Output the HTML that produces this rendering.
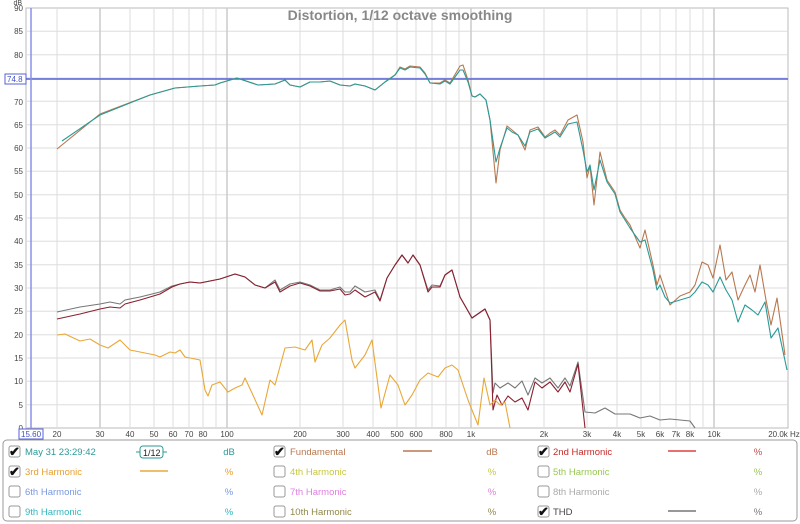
<!DOCTYPE html>
<html><head><style>
body{margin:0;background:#fff;font-family:"Liberation Sans",sans-serif;}
svg{display:block}
</style></head><body>
<svg width="800" height="524" xmlns="http://www.w3.org/2000/svg" font-family="Liberation Sans, sans-serif">
<rect width="800" height="524" fill="#fff"/>
<rect x="26" y="8" width="762" height="420" fill="#fff" stroke="#bbb"/>
<g stroke="#ddd" stroke-width="1">
<line x1="26" y1="31.3" x2="788" y2="31.3"/><line x1="26" y1="54.7" x2="788" y2="54.7"/><line x1="26" y1="78" x2="788" y2="78"/><line x1="26" y1="101.3" x2="788" y2="101.3"/><line x1="26" y1="124.7" x2="788" y2="124.7"/><line x1="26" y1="148" x2="788" y2="148"/><line x1="26" y1="171.3" x2="788" y2="171.3"/><line x1="26" y1="194.7" x2="788" y2="194.7"/><line x1="26" y1="218" x2="788" y2="218"/><line x1="26" y1="241.3" x2="788" y2="241.3"/><line x1="26" y1="264.7" x2="788" y2="264.7"/><line x1="26" y1="288" x2="788" y2="288"/><line x1="26" y1="311.3" x2="788" y2="311.3"/><line x1="26" y1="334.7" x2="788" y2="334.7"/><line x1="26" y1="358" x2="788" y2="358"/><line x1="26" y1="381.3" x2="788" y2="381.3"/><line x1="26" y1="404.7" x2="788" y2="404.7"/>
</g>
<g stroke="#ddd">
<line x1="57" y1="8" x2="57" y2="428"/><line x1="100" y1="8" x2="100" y2="428"/><line x1="130" y1="8" x2="130" y2="428"/><line x1="154" y1="8" x2="154" y2="428"/><line x1="173" y1="8" x2="173" y2="428"/><line x1="189" y1="8" x2="189" y2="428"/><line x1="203" y1="8" x2="203" y2="428"/><line x1="216" y1="8" x2="216" y2="428"/><line x1="227" y1="8" x2="227" y2="428"/>
<line x1="300" y1="8" x2="300" y2="428"/><line x1="343" y1="8" x2="343" y2="428"/><line x1="373" y1="8" x2="373" y2="428"/><line x1="397" y1="8" x2="397" y2="428"/><line x1="416" y1="8" x2="416" y2="428"/><line x1="432" y1="8" x2="432" y2="428"/><line x1="446" y1="8" x2="446" y2="428"/><line x1="459" y1="8" x2="459" y2="428"/><line x1="471" y1="8" x2="471" y2="428"/>
<line x1="544" y1="8" x2="544" y2="428"/><line x1="587" y1="8" x2="587" y2="428"/><line x1="617" y1="8" x2="617" y2="428"/><line x1="641" y1="8" x2="641" y2="428"/><line x1="660" y1="8" x2="660" y2="428"/><line x1="676" y1="8" x2="676" y2="428"/><line x1="690" y1="8" x2="690" y2="428"/><line x1="703" y1="8" x2="703" y2="428"/><line x1="714" y1="8" x2="714" y2="428"/>
</g>
<g stroke="#ccc" stroke-width="1.5"><line x1="100" y1="8" x2="100" y2="428"/><line x1="227" y1="8" x2="227" y2="428"/><line x1="471" y1="8" x2="471" y2="428"/><line x1="714" y1="8" x2="714" y2="428"/></g>
<line x1="26" y1="79" x2="788" y2="79" stroke="#5560d8" stroke-width="1.5"/>
<line x1="31" y1="8" x2="31" y2="428" stroke="#8890e8" stroke-width="1.5"/>
<text x="400" y="20" text-anchor="middle" font-size="14" font-weight="bold" fill="#888">Distortion, 1/12 octave smoothing</text>
<g font-size="8" fill="#444" text-anchor="end">
<text x="22" y="5" font-size="7">dB</text>
<text x="23" y="11">90</text><text x="23" y="34">85</text><text x="23" y="58">80</text><text x="23" y="105">70</text><text x="23" y="128">65</text><text x="23" y="151">60</text><text x="23" y="174">55</text><text x="23" y="198">50</text><text x="23" y="221">45</text><text x="23" y="244">40</text><text x="23" y="268">35</text><text x="23" y="291">30</text><text x="23" y="314">25</text><text x="23" y="338">20</text><text x="23" y="361">15</text><text x="23" y="384">10</text><text x="23" y="408">5</text><text x="23" y="431">0</text>
</g>
<rect x="5" y="74" width="21" height="10" fill="#fff" stroke="#5560d8"/>
<text x="7" y="82" font-size="8" fill="#4050c0">74.8</text>
<rect x="19" y="429" width="24" height="10" fill="#fff" stroke="#5560d8"/>
<text x="21" y="437" font-size="8" fill="#4050c0">15.60</text>
<g font-size="8" fill="#444" text-anchor="middle">
<text x="57" y="437">20</text><text x="100" y="437">30</text><text x="130" y="437">40</text><text x="154" y="437">50</text><text x="173" y="437">60</text><text x="189" y="437">70</text><text x="203" y="437">80</text><text x="227" y="437">100</text><text x="300" y="437">200</text><text x="343" y="437">300</text><text x="373" y="437">400</text><text x="397" y="437">500</text><text x="416" y="437">600</text><text x="446" y="437">800</text><text x="471" y="437">1k</text><text x="544" y="437">2k</text><text x="587" y="437">3k</text><text x="617" y="437">4k</text><text x="641" y="437">5k</text><text x="660" y="437">6k</text><text x="676" y="437">7k</text><text x="690" y="437">8k</text><text x="714" y="437">10k</text><text x="784" y="437">20.0k Hz</text>
</g>
<g fill="none" stroke-width="1.1" stroke-linejoin="round">
<path stroke="#b87850" d="M57,149 L100,114 L150,95 L175,88 L200,86 L215,85 L220,83 L237,78 L258,85 L275,84 L285,80 L290,85 L300,87 L310,82 L320,82 L330,81 L340,85 L350,86 L355,84 L365,86 L375,90 L385,82 L395,75 L400,67 L405,69 L410,66 L420,67 L425,73 L430,83 L440,83 L445,80 L450,83 L460,66 L463,65 L468,80 L472,96 L475,97 L480,94 L486,100 L490,120 L496,183 L500,150 L507,126 L512,130 L518,135 L525,150 L530,130 L538,127 L545,137 L550,133 L555,130 L560,135 L568,120 L577,115 L583,142 L587,178 L590,166 L594,205 L600,152 L607,180 L615,192 L620,210 L625,218 L630,225 L640,248 L645,230 L653,265 L657,285 L660,275 L665,290 L670,305 L680,296 L690,292 L695,285 L702,262 L708,265 L713,278 L720,245 L726,280 L732,272 L738,300 L745,285 L750,275 L755,292 L760,265 L766,300 L771,325 L777,298 L785,355"/>
<path stroke="#2a9a98" d="M62,141 L100,115 L150,95 L175,88 L200,86 L215,85 L220,83 L237,78 L258,85 L275,84 L285,80 L290,85 L300,87 L310,82 L320,82 L330,81 L340,85 L350,86 L355,84 L365,86 L375,90 L385,82 L395,75 L400,68 L405,70 L410,67 L420,68 L425,74 L430,83 L440,84 L445,81 L450,84 L460,70 L463,70 L468,82 L472,96 L475,97 L480,94 L486,100 L490,120 L496,162 L500,148 L507,128 L512,132 L518,135 L525,146 L530,132 L538,129 L545,138 L550,135 L555,132 L560,137 L568,124 L577,122 L583,150 L587,172 L590,165 L594,190 L600,160 L607,182 L615,194 L620,212 L625,220 L630,228 L640,242 L645,240 L653,270 L657,290 L660,285 L665,297 L670,303 L680,300 L690,297 L695,292 L702,282 L708,285 L713,292 L720,277 L726,290 L732,300 L738,322 L745,305 L752,310 L758,315 L765,302 L771,338 L778,328 L787,370"/>
<path stroke="#777" d="M57,312 L80,307 L100,304 L110,302 L120,304 L125,300 L140,297 L160,292 L172,286 L180,284 L190,282 L200,283 L220,279 L235,274 L245,277 L255,285 L265,288 L275,280 L280,290 L290,284 L300,282 L310,285 L320,290 L330,290 L340,287 L345,292 L350,292 L355,286 L365,292 L375,290 L380,300 L387,278 L395,265 L402,255 L408,263 L413,255 L420,265 L428,290 L432,285 L440,286 L445,275 L452,270 L460,297 L472,318 L485,309 L490,320 L493,393 L495,383 L500,388 L508,383 L515,388 L522,381 L528,395 L535,378 L542,383 L550,378 L558,388 L565,378 L570,386 L578,362 L585,412 L595,413 L605,408 L615,414 L630,414 L640,418 L650,416 L660,420 L670,419 L680,420 L690,421 L695,428"/>
<path stroke="#8a2030" d="M57,319 L80,314 L100,309 L110,307 L120,308 L125,304 L140,300 L160,294 L172,287 L180,284 L190,282 L200,283 L220,279 L235,274 L245,277 L255,285 L265,288 L275,282 L280,292 L290,286 L300,283 L310,286 L320,291 L330,291 L340,289 L345,295 L350,294 L355,290 L365,297 L375,292 L380,301 L387,278 L395,265 L402,255 L408,263 L413,255 L420,265 L428,292 L432,287 L440,287 L445,275 L452,270 L460,297 L472,318 L485,309 L490,320 L493,410 L497,395 L502,405 L508,396 L515,402 L522,398 L528,410 L535,382 L542,388 L550,382 L558,392 L565,382 L570,392 L578,364 L585,428"/>
<path stroke="#e8a838" d="M57,335 L65,334 L80,341 L90,339 L100,345 L108,348 L120,340 L130,350 L140,352 L155,355 L160,357 L170,352 L175,353 L180,350 L185,357 L195,359 L200,360 L205,390 L208,396 L212,385 L220,382 L228,392 L235,388 L242,385 L245,378 L252,393 L262,415 L270,380 L275,385 L285,348 L295,347 L305,350 L312,340 L315,362 L322,345 L330,338 L340,325 L345,320 L352,360 L355,368 L365,355 L372,340 L381,408 L390,375 L398,385 L405,405 L412,395 L420,380 L428,373 L438,377 L445,368 L452,365 L458,370 L468,400 L478,425 L484,378 L490,405 L495,400 L500,405 L505,402 L510,428"/>
</g>
<rect x="3" y="440" width="794" height="81" rx="4" fill="#fff" stroke="#999"/>
<g font-size="9.5">
<g fill="#fff" stroke="#999"><rect x="9" y="446" width="11" height="11" rx="2"/><rect x="9" y="466" width="11" height="11" rx="2"/><rect x="9" y="486" width="11" height="11" rx="2"/><rect x="9" y="506" width="11" height="11" rx="2"/>
<rect x="274" y="446" width="11" height="11" rx="2"/><rect x="274" y="466" width="11" height="11" rx="2"/><rect x="274" y="486" width="11" height="11" rx="2"/><rect x="274" y="506" width="11" height="11" rx="2"/>
<rect x="538" y="446" width="11" height="11" rx="2"/><rect x="538" y="466" width="11" height="11" rx="2"/><rect x="538" y="486" width="11" height="11" rx="2"/><rect x="538" y="506" width="11" height="11" rx="2"/></g>
<g fill="#111" font-size="13" font-weight="bold"><text x="9" y="456">✔</text><text x="9" y="476">✔</text><text x="274" y="456">✔</text><text x="538" y="456">✔</text><text x="538" y="516">✔</text></g>
<text x="25" y="455" fill="#2a9a98">May 31 23:29:42</text>
<rect x="140" y="446" width="23" height="12" rx="3" fill="#fff" stroke="#2a9a98"/>
<line x1="136" y1="452" x2="140" y2="452" stroke="#2a9a98"/><line x1="163" y1="452" x2="167" y2="452" stroke="#2a9a98"/>
<text x="143" y="456" font-size="9" fill="#222">1/12</text>
<text x="229" y="455" fill="#2a9a98" text-anchor="middle">dB</text>
<text x="290" y="455" fill="#b87850">Fundamental</text>
<line x1="403" y1="451" x2="432" y2="451" stroke="#b87850" stroke-width="1.5"/>
<text x="492" y="455" fill="#b87850" text-anchor="middle">dB</text>
<text x="553" y="455" fill="#c82828">2nd Harmonic</text>
<line x1="668" y1="451" x2="696" y2="451" stroke="#e04040" stroke-width="1.5"/>
<text x="758" y="455" fill="#c84848" text-anchor="middle">%</text>
<text x="25" y="475" fill="#e8a030">3rd Harmonic</text>
<line x1="140" y1="471" x2="168" y2="471" stroke="#e8a838" stroke-width="1.5"/>
<text x="229" y="475" fill="#e8a030" text-anchor="middle">%</text>
<text x="290" y="475" fill="#c8c840">4th Harmonic</text>
<text x="492" y="475" fill="#c8c840" text-anchor="middle">%</text>
<text x="553" y="475" fill="#98c850">5th Harmonic</text>
<text x="758" y="475" fill="#98c850" text-anchor="middle">%</text>
<text x="25" y="495" fill="#7898e0">6th Harmonic</text>
<text x="229" y="495" fill="#7898e0" text-anchor="middle">%</text>
<text x="290" y="495" fill="#e080e0">7th Harmonic</text>
<text x="492" y="495" fill="#e080e0" text-anchor="middle">%</text>
<text x="553" y="495" fill="#aaa">8th Harmonic</text>
<text x="758" y="495" fill="#aaa" text-anchor="middle">%</text>
<text x="25" y="515" fill="#30b8c0">9th Harmonic</text>
<text x="229" y="515" fill="#30b8c0" text-anchor="middle">%</text>
<text x="290" y="515" fill="#908848">10th Harmonic</text>
<text x="492" y="515" fill="#908848" text-anchor="middle">%</text>
<text x="553" y="515" fill="#444">THD</text>
<line x1="668" y1="511" x2="696" y2="511" stroke="#777" stroke-width="1.5"/>
<text x="758" y="515" fill="#777" text-anchor="middle">%</text>
</g>
</svg>
</body></html>
